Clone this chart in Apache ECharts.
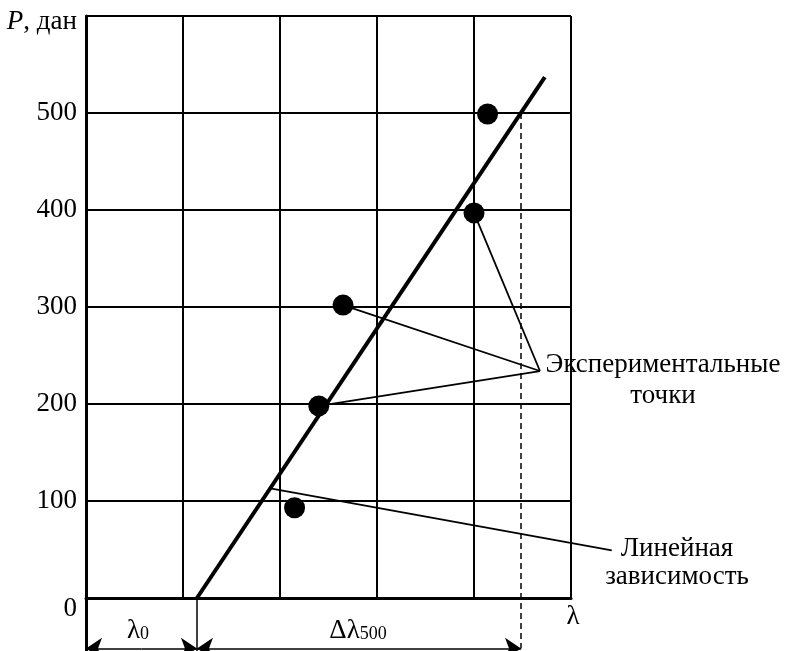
<!DOCTYPE html>
<html>
<head>
<meta charset="utf-8">
<script src="https://cdn.jsdelivr.net/npm/echarts@6/dist/echarts.min.js"></script>
<style>
  html, body { margin: 0; padding: 0; background: #fff; }
  #chart { width: 787px; height: 651px; }
</style>
</head>
<body>
<div id="chart"></div>
<script>
// experimental points (lambda in grid units, P in daN)
const pointsX = [2.15, 2.40, 2.65, 4.00, 4.14];
const pointsY = [93, 198, 302, 397, 499];

// fitted linear dependence
const fitX = [1.144, 4.73];
const fitY = [0, 537];

const lambda0 = 1.144;     // start of the line
const lambda500 = 4.485;   // lambda at P = 500
const belowY = -55;        // extension below the axis
const arrowY = -52;

// leader lines: label anchor -> points
const expAnchor = [4.68, 234];
const linStart = [1.90, 113];
const linEnd = [5.42, 49];

const font = 'Liberation Serif';
const black = '#000';

const chart = echarts.init(document.getElementById('chart'));

const guides = [
  { coords: [[0, 0], [0, belowY]], lineStyle: { width: 3, type: 'solid' } },
  { coords: [[lambda0, 0], [lambda0, belowY]], lineStyle: { width: 1.5, type: 'solid' } },
  { coords: [[lambda500, 500], [lambda500, arrowY]], lineStyle: { width: 1.5, type: [6, 4] } },
  { coords: [expAnchor, [pointsX[3], pointsY[3]]], lineStyle: { width: 1.8, type: 'solid' } },
  { coords: [expAnchor, [pointsX[2], pointsY[2]]], lineStyle: { width: 1.8, type: 'solid' } },
  { coords: [expAnchor, [pointsX[1], pointsY[1]]], lineStyle: { width: 1.8, type: 'solid' } },
  { coords: [linStart, linEnd], lineStyle: { width: 1.8, type: 'solid' } }
];

// dimension arrows, drawn from the middle outwards so each half ends in an arrowhead
const mid0 = lambda0 / 2;
const mid500 = (lambda0 + lambda500) / 2;
const arrows = [
  { coords: [[mid0, arrowY], [0, arrowY]] },
  { coords: [[mid0, arrowY], [lambda0, arrowY]] },
  { coords: [[mid500, arrowY], [lambda0, arrowY]] },
  { coords: [[mid500, arrowY], [lambda500, arrowY]] }
];

const option = {
  animation: false,
  backgroundColor: '#fff',
  grid: { left: 86, top: 16, right: 216, bottom: 53 },
  xAxis: {
    type: 'value',
    min: 0,
    max: 5,
    interval: 1,
    axisLine: { lineStyle: { color: black, width: 3 } },
    axisTick: { show: false },
    axisLabel: { show: false },
    splitLine: { show: true, lineStyle: { color: black, width: 2 } }
  },
  yAxis: {
    type: 'value',
    min: 0,
    max: 600,
    interval: 100,
    axisLine: { show: true, lineStyle: { color: black, width: 3 } },
    axisTick: { show: false },
    splitLine: { show: true, lineStyle: { color: black, width: 2 } },
    axisLabel: {
      margin: 9,
      color: black,
      fontFamily: font,
      fontSize: 27,
      formatter: function (v) {
        if (v === 600) return '{i|P}{n|, дан}';
        if (v === 0) return '{z|0}';
        return String(v);
      },
      rich: {
        i: { fontStyle: 'italic', fontFamily: font, fontSize: 27, color: black, padding: [12, 0, 0, 0] },
        n: { fontFamily: font, fontSize: 27, color: black, padding: [12, 0, 0, 0] },
        z: { fontFamily: font, fontSize: 27, color: black, padding: [22, 0, 0, 0] }
      }
    }
  },
  series: [
    {
      type: 'lines',
      coordinateSystem: 'cartesian2d',
      clip: false,
      silent: true,
      lineStyle: { color: black, opacity: 1 },
      data: guides
    },
    {
      type: 'lines',
      coordinateSystem: 'cartesian2d',
      clip: false,
      silent: true,
      symbol: ['none', 'arrow'],
      symbolSize: [7, 16],
      itemStyle: { color: black, opacity: 1 },
      lineStyle: { color: black, width: 1.5, opacity: 1 },
      data: arrows
    },
    {
      type: 'line',
      clip: false,
      showSymbol: false,
      lineStyle: { color: black, width: 4 },
      data: fitX.map((x, i) => [x, fitY[i]])
    },
    {
      type: 'scatter',
      symbolSize: 21,
      itemStyle: { color: black, opacity: 1 },
      data: pointsX.map((x, i) => [x, pointsY[i]])
    }
  ],
  graphic: [
    {
      type: 'text', x: 663, y: 349,
      style: {
        text: 'Экспериментальные\nточки', fill: black, font: '27px "Liberation Serif"',
        textAlign: 'center', lineHeight: 31
      }
    },
    {
      type: 'text', x: 677, y: 535,
      style: {
        text: 'Линейная\nзависимость', fill: black, font: '27px "Liberation Serif"',
        textAlign: 'center', lineHeight: 28
      }
    },
    {
      type: 'text', x: 573, y: 603,
      style: { text: 'λ', fill: black, font: '27px "Liberation Serif"', textAlign: 'center' }
    },
    {
      type: 'text', x: 138, y: 617,
      style: {
        text: 'λ{s|0}', fill: black, font: '27px "Liberation Serif"', textAlign: 'center',
        rich: { s: { fontSize: 18, fontFamily: font, padding: [8, 0, 0, 0] } }
      }
    },
    {
      type: 'text', x: 358, y: 617,
      style: {
        text: 'Δλ{s|500}', fill: black, font: '27px "Liberation Serif"', textAlign: 'center',
        rich: { s: { fontSize: 18, fontFamily: font, padding: [8, 0, 0, 0] } }
      }
    }
  ]
};

chart.setOption(option);
</script>
</body>
</html>
